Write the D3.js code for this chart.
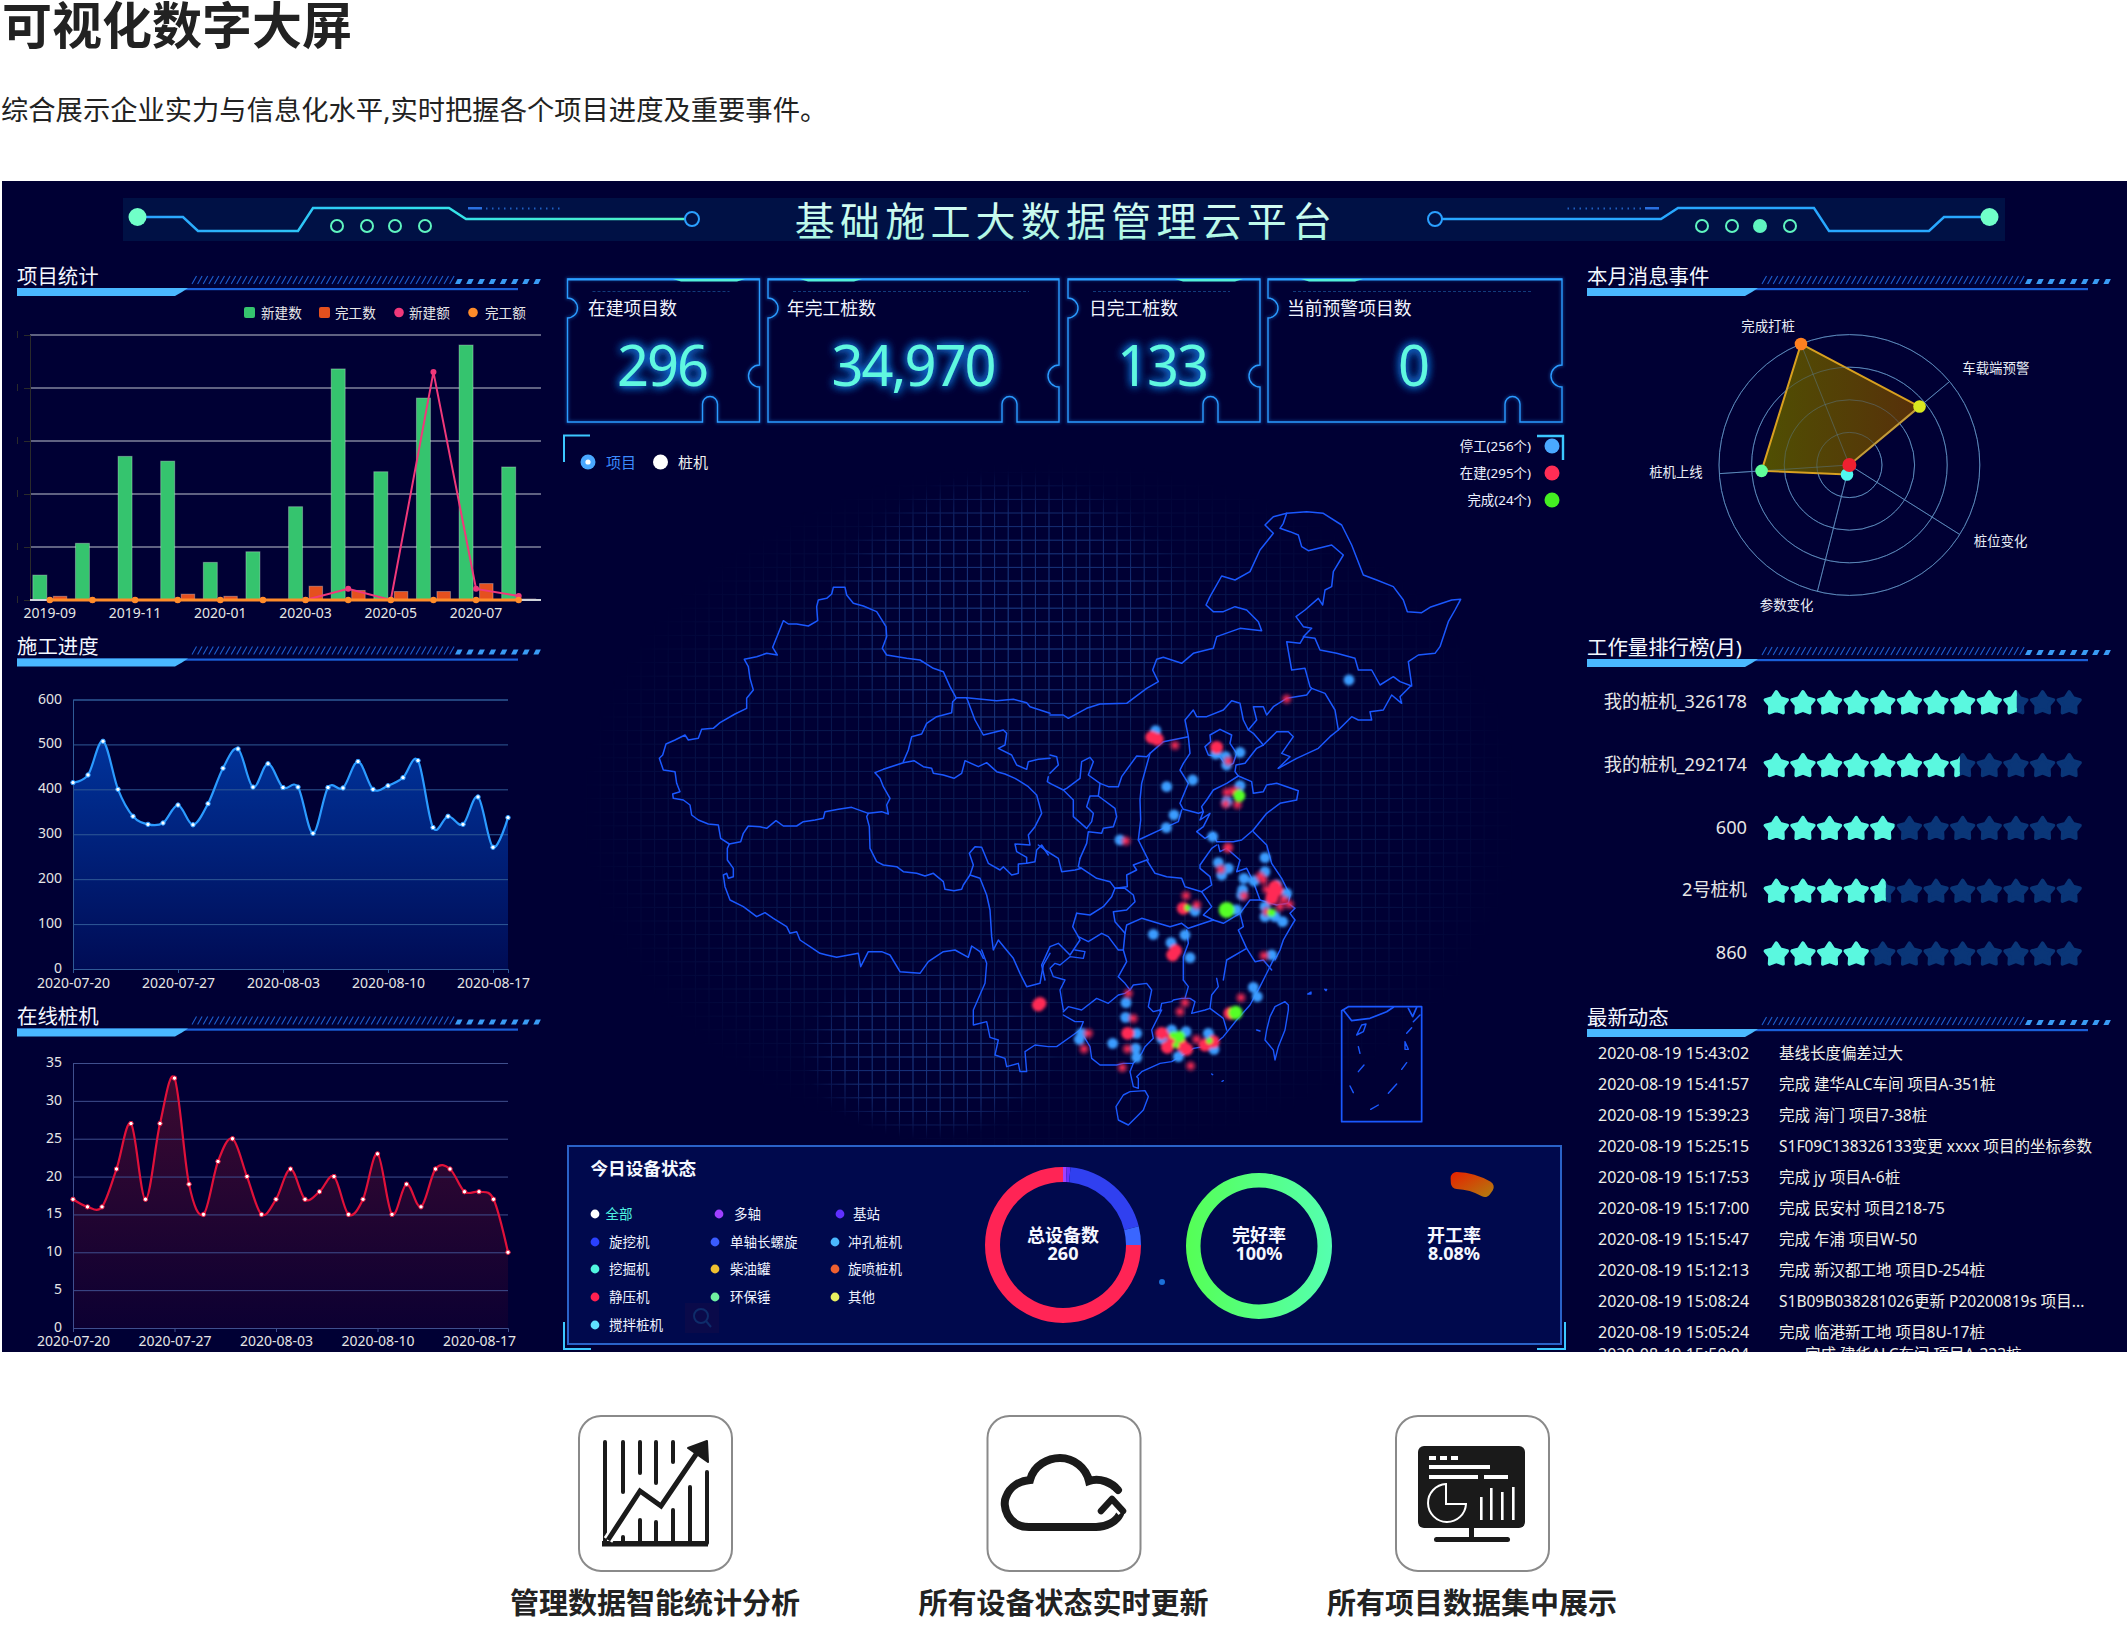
<!DOCTYPE html>
<html><head><meta charset="utf-8">
<style>
html,body{margin:0;padding:0;background:#fff}
svg{display:block}
text{font-family:"Noto Sans","Noto Sans CJK SC",sans-serif}
</style>
<script src="https://cdnjs.cloudflare.com/ajax/libs/d3/7.8.5/d3.min.js"></script>
</head><body>
<script>
// ---------- data ----------
const months = ["2019-09","2019-10","2019-11","2019-12","2020-01","2020-02","2020-03","2020-04","2020-05","2020-06","2020-07","2020-08"];
const newCount = [4.7,10.7,27.1,26.2,7.1,9.1,17.6,43.6,24.2,38.1,48.1,25.1];
const doneCount = [0.7,0,0,1.1,0.7,0,2.6,1.8,1.6,1.6,3.1,0.2];
const newAmount = [0,0,0,0,0,0,0,2.1,0,43,2.1,0.75];
const doneAmount = [0,0,0,0,0,0,0,0,0,0,0,0];
const statsLegend = ["新建数","完工数","新建额","完工额"];

const progressValues = [415,432,507,400,340,322,325,365,321,368,447,490,405,457,404,405,302,404,403,462,400,408,426,464,315,340,322,383,271,337];
const progressTicks = ["2020-07-20","2020-07-27","2020-08-03","2020-08-10","2020-08-17"];
const onlineValues = [17,16,16,21,27,17,27,33,19,15,22,25,20,15,17,21,17,18,20,15,17,23,15,19,16,21,21,18,18,17,10];
const tickIndex = [0,7,14,21,28];

const kpiLabels = ["在建项目数","年完工桩数","日完工桩数","当前预警项目数"];
const kpiValues = ["296","34,970","133","0"];

const radarAxes = ["完成打桩","车载端预警","桩位变化","参数变化","桩机上线"];
const radarValues = [40,28,0,3,27];
const radarColors = ["#ff8020","#d8e820","#ee2030","#50f8f0","#60ff9a"];

const rankNames = ["我的桩机_326178","我的桩机_292174","600","2号桩机","860"];
const rankStars = [9.53,7.39,4.94,4.61,3.98];

const newsTimes = ["2020-08-19 15:43:02","2020-08-19 15:41:57","2020-08-19 15:39:23","2020-08-19 15:25:15","2020-08-19 15:17:53","2020-08-19 15:17:00","2020-08-19 15:15:47","2020-08-19 15:12:13","2020-08-19 15:08:24","2020-08-19 15:05:24","2020-08-19 15:50:04"];
const newsTexts = ["基线长度偏差过大","完成 建华ALC车间 项目A-351桩","完成 海门 项目7-38桩","S1F09C138326133变更 xxxx 项目的坐标参数","完成 jy 项目A-6桩","完成 民安村 项目218-75","完成 乍浦 项目W-50","完成 新汉都工地 项目D-254桩","S1B09B038281026更新 P20200819s 项目...","完成 临港新工地 项目8U-17桩","完成 建华ALC车间 项目A-333桩"];

const deviceLegend = [["全部","#ffffff"],["多轴","#a040ff"],["基站","#6030ff"],["旋挖机","#2a40ff"],["单轴长螺旋","#3a5cff"],["冲孔桩机","#4ab8ff"],["挖掘机","#50f5e0"],["柴油罐","#f0c030"],["旋喷桩机","#f06030"],["静压机","#ff2050"],["环保锤","#70f0a0"],["其他","#e8f060"],["搅拌桩机","#60e0ff"]];
const deviceCounts = [2,2,51,10,195];
const deviceColors = ["#a040ff","#6a30ff","#3040f0","#3a66ff","#ff2455"];
const doneRate = 8.08;

const mapLegend = [["停工(256个)","#4aa8ff"],["在建(295个)","#ff2d55"],["完成(24个)","#44ee22"]];
const iconCaptions = ["管理数据智能统计分析","所有设备状态实时更新","所有项目数据集中展示"];

// map outlines, traced in four survey tiles
const tileOrigin = {a:[650,570],b:[1050,500],c:[970,780],d:[960,950]};
const bordersA = [
[[918,383],[900,350],[880,305],[850,295],[810,270],[770,265],[710,255],[697,235],[710,200],[708,170],[680,125],[640,108],[610,100],[590,75],[585,52],[550,52],[545,72],[530,85],[505,90],[500,110],[503,152],[475,168],[440,162],[415,162],[400,152],[385,190],[368,232],[382,255],[350,250],[320,260],[283,268],[295,290],[300,325],[310,360],[290,385],[290,415],[255,432],[210,458],[190,475],[155,478],[145,505],[115,510],[105,495],[75,510],[48,522],[38,555],[28,565],[40,600],[75,605],[80,640],[90,665],[68,672],[70,685],[100,690],[120,705],[125,735],[145,750],[175,762],[205,765],[212,805],[238,822]],
[[238,822],[272,815],[280,790],[295,768],[330,770],[350,775],[378,752],[400,768],[440,768],[460,755],[495,750],[520,745],[525,725],[565,718],[605,712],[655,730],[695,725],[715,732],[710,705],[720,685],[700,650],[690,625],[675,608],[700,598],[760,578],[792,572],[820,590],[845,595],[850,610],[880,615],[912,625],[935,610],[945,572],[985,590],[1010,578],[1040,605],[1065,612],[1095,625],[1135,650],[1160,675],[1175,730],[1155,770],[1135,795],[1140,825],[1095,822],[1100,845],[1130,862],[1130,880]],
[[760,575],[775,540],[785,500],[815,492],[830,460],[860,440],[905,428],[908,395],[920,383],[950,383],[975,450],[1000,495],[1060,480],[1070,490],[1065,525],[1045,535],[1085,555],[1100,585],[1130,598],[1135,575],[1165,568],[1200,565]],
[[950,383],[1040,392],[1090,388],[1130,398],[1140,410],[1200,430]],
[[655,730],[650,740],[658,770],[660,835],[680,875],[700,885],[740,890],[760,905],[800,910],[825,918],[850,910],[880,935],[885,958],[912,962],[935,958],[940,945],[960,915],[970,885],[958,850],[975,830],[995,832],[1015,880],[1050,900],[1060,890],[1085,915],[1105,910],[1105,882],[1130,880],[1155,875],[1160,840],[1175,825],[1195,855]],
[[238,822],[232,835],[232,870],[250,895],[250,920],[235,925],[230,910],[220,915],[225,950],[240,990],[280,1010],[320,1040],[345,1028],[370,1045],[410,1070],[420,1090],[440,1085],[450,1110],[480,1130],[510,1150],[530,1155],[560,1162],[625,1150],[632,1190],[655,1145],[695,1145],[720,1155],[750,1205],[810,1210],[835,1175],[880,1145],[915,1140],[955,1162],[965,1128],[990,1145],[1000,1165]],
[[960,915],[990,925],[1010,975],[1020,1020],[1025,1100],[1030,1140],[1045,1110],[1065,1135],[1090,1165],[1110,1210],[1130,1250],[1170,1240],[1180,1185],[1200,1150]],
[[1195,620],[1192,635],[1200,640]]
];
const bordersB = [
[[0,645],[40,645],[55,655],[110,625],[150,612],[230,610],[290,565],[325,545],[308,510],[320,478],[340,472],[395,490],[430,460],[490,445],[500,410],[570,385],[635,392],[625,365],[590,330],[555,320],[520,335],[490,335],[468,315],[480,290],[515,228],[555,240],[600,215],[630,150],[670,100],[645,75],[670,50],[710,40],[770,35],[820,40],[875,75],[905,135],[940,225],[980,240],[1030,260],[1060,300],[1072,335],[1115,338],[1140,322],[1205,300],[1232,298],[1215,330],[1195,365],[1170,440],[1155,460],[1105,465],[1075,485],[1085,555],[1050,590],[1055,610],[1025,585],[1000,630],[960,635],[965,660],[925,660],[905,650],[865,690],[840,710],[805,745],[740,775],[685,805]],
[[710,40],[700,70],[690,85],[720,95],[745,105],[755,140],[775,152],[845,135],[880,165],[850,215],[845,260],[825,270],[818,315],[805,295],[765,330],[738,350],[760,380],[785,385],[760,410],[795,415],[810,450],[860,460],[915,475],[925,510],[965,510],[990,555],[1030,530],[1050,545],[1085,558]],
[[762,410],[750,430],[710,425],[725,510],[765,505],[780,560],[785,565],[825,580],[855,630],[865,690]],
[[785,565],[770,585],[710,595],[670,620],[650,645],[640,620],[610,620],[620,660],[595,690],[610,700],[640,735]],
[[640,735],[680,695],[715,695],[730,710],[695,760],[720,770],[685,805]],
[[640,735],[620,745],[585,790],[558,795],[555,815],[565,828]],
[[595,690],[580,660],[570,610],[545,602],[520,630],[470,650],[440,650],[430,630],[405,660],[415,710]],
[[415,710],[420,760],[400,790],[390,810],[415,850],[390,910],[400,928],[445,940],[460,935]],
[[510,688],[480,705],[482,725],[465,740],[475,765],[510,770],[530,800],[550,790],[560,760],[540,730],[545,705],[510,688]],
[[415,710],[340,725],[300,760],[290,770],[260,768],[215,830],[205,860],[175,860],[150,850],[115,825],[130,785],[120,772],[95,785],[90,835],[50,865],[40,870],[0,850]],
[[300,760],[275,850],[270,900],[272,960],[265,1020],[285,1060],[295,1080]],
[[265,1020],[340,985],[385,965],[395,930]],
[[150,850],[145,888],[120,888],[110,920],[130,940],[125,965],[110,985]],
[[40,870],[70,900],[70,950],[110,985]],
[[145,888],[195,925],[200,950],[190,980],[160,985],[155,1000],[115,995],[110,1030],[90,1075]],
[[0,765],[20,770],[25,795],[0,820]],
[[565,828],[605,845],[610,880],[640,875],[650,855],[680,850],[745,872],[740,900],[690,910],[650,940],[610,990]],
[[565,828],[530,850],[490,870],[470,900],[455,920],[460,935],[450,960],[480,940],[460,980],[440,995],[465,1015],[490,1000],[500,1025],[550,1025],[575,1020],[610,990]]
];
const bordersC = [
[[205,195],[225,210],[265,235],[275,275],[315,270],[335,265],[380,295],[420,305],[435,325],[465,325],[490,345],[495,365],[470,390],[430,395],[435,425],[465,460],[460,510],[470,545],[445,590]],
[[335,265],[325,260],[330,235]],
[[530,240],[490,255],[500,270],[470,285],[472,320],[435,325]],
[[530,240],[555,280],[590,290],[635,295],[645,320],[695,335],[705,350],[725,380],[700,405],[730,420]],
[[740,195],[725,205],[690,255],[690,265],[720,290],[725,315],[695,335]],
[[745,195],[750,215],[770,205],[810,240],[800,275],[830,265],[850,305],[870,360],[840,360],[810,400],[760,430],[730,420]],
[[850,155],[890,195],[905,250],[935,295],[950,325],[960,345],[955,370],[975,385],[960,400],[975,420],[960,445],[940,480],[930,510],[915,540]],
[[870,360],[920,375],[955,370]],
[[810,400],[820,440],[805,450],[830,505],[855,545],[880,540],[905,570]],
[[465,460],[470,435],[515,415],[565,430],[600,440],[635,430],[655,445],[700,430],[730,420]],
[[650,450],[655,490],[640,530],[640,600]],
[[830,505],[770,540],[760,600]],
[[320,400],[360,405],[400,380],[425,350],[435,325]],
[[320,400],[308,440],[325,470],[355,485],[395,460],[415,470],[430,490],[445,510],[460,510]],
[[325,470],[330,480],[300,525],[265,490],[240,500],[215,555],[225,600]]
];
const bordersD = [
[[65,0],[80,40],[75,100],[40,180],[40,225],[80,215],[90,262],[115,270],[105,315],[135,325],[140,350],[175,340],[180,365],[200,365],[195,305],[225,285],[265,290],[290,290],[335,258],[360,240],[390,290],[395,325],[420,345],[470,345],[490,340],[520,340],[510,365],[520,410],[535,415],[535,385],[530,380],[545,365],[600,340],[635,335],[700,295],[760,285],[790,260],[830,210],[870,165],[900,110],[925,60],[945,20]],
[[310,195],[345,215],[370,215],[360,240]],
[[310,180],[300,120],[315,90],[280,80],[270,55],[285,40],[300,45],[330,20],[370,25],[375,5],[345,0]],
[[310,185],[325,170],[365,180],[410,145],[445,160],[475,135],[495,130],[510,120],[495,100],[475,80]],
[[510,120],[520,105],[560,100],[575,120],[565,170],[580,185],[600,180]],
[[605,180],[575,240],[580,265],[555,290],[545,310],[520,340]],
[[600,185],[605,160],[635,155],[640,150],[665,145],[690,145],[705,155],[695,190],[735,180],[750,175],[790,205],[800,240]],
[[670,90],[685,110],[675,145]],
[[770,85],[775,110],[755,135],[750,175]],
[[975,155],[945,170],[930,200],[920,240],[915,270],[940,300],[945,330],[955,290],[975,240],[985,180],[985,165],[975,155]],
[[510,425],[555,422],[565,440],[550,480],[530,500],[505,525],[475,510],[468,470],[490,435],[510,425]],
[[1190,255],[1205,225],[1218,222],[1210,245],[1190,255]],
[[1195,290],[1200,310]],[[1195,365],[1212,345]],[[1170,408],[1180,428]],[[1285,430],[1310,402]],[[1232,478],[1255,465]],
[[1325,358],[1340,338]],[[1335,275],[1345,298],[1335,298],[1335,275]],[[1340,250],[1355,233]],[[1360,215],[1380,195]],
[[890,240],[900,243]],[[1043,132],[1053,126],[1053,132],[1043,132]],[[1094,118],[1100,118],[1098,122],[1094,118]],[[755,372],[758,374]],[[786,394],[790,392]]
];
const nanhaiBox = [[[1145,182],[1165,170],[1385,170],[1385,515],[1145,515],[1145,182]],[[1150,180],[1175,212],[1230,205],[1280,185],[1300,172]],[[1345,175],[1358,200],[1370,172]]];

// site dots: [tile,u,v]
const stoppedSites = [["b",317,692],["b",497,762],["b",527,770],["b",570,757],["b",530,795],["b",428,840],["b",350,860],["b",372,945],["b",349,983],["b",570,857],["b",530,905],["b",210,1020],["b",488,1010],["b",897,540],
["c",885,233],["c",745,248],["c",775,265],["c",755,285],["c",885,275],["c",822,295],["c",852,303],["c",818,330],["c",815,345],["c",950,340],["c",603,488],["c",660,533],["c",550,463],["c",645,465],["c",800,390],["c",675,393],["c",905,525],["c",885,380],["c",885,410],["c",915,410],["c",938,425],["c",920,315],
["d",498,158],["d",497,202],["d",458,280],["d",530,250],["d",527,295],["d",530,322],["d",365,250],["d",358,268],["d",605,265],["d",635,240],["d",678,245],["d",745,250],["d",762,298],["d",655,320],["d",880,112],["d",892,140]];
const activeSitesSmall = [["b",710,597],["b",375,736],["b",228,1023],["b",533,1044],["b",562,914],["b",527,912],["b",530,877],["b",548,873],["b",562,875],["b",535,783],
["c",775,203],["c",752,268],["c",870,288],["c",880,300],["c",890,328],["c",822,348],["c",940,358],["c",958,373],["c",930,380],["c",890,395],["c",648,347],["c",680,375],["c",882,527],
["d",505,130],["d",520,205],["d",385,250],["d",372,297],["d",675,158],["d",660,185],["d",843,143],["d",710,268],["d",692,348],["d",487,353],["d",502,297]];
const activeSitesLarge = [["b",305,712],["b",322,718],["b",500,742],["c",640,385],["c",905,355],["c",920,330],["c",910,340],["c",915,320],["c",608,525],["c",617,512],
["d",240,160],["d",235,165],["d",503,250],["d",605,250],["d",622,292],["d",680,298],["d",640,265],["d",665,285],["d",810,190],["d",735,285],["d",760,275]];
const finishedSites = [["b",568,887,6],["c",653,383,3],["c",905,398,4],["c",770,390,8],["d",827,188,7],["d",658,260,6],["d",640,255,3.5],["d",648,285,3],["d",748,272,3]];

// ---------- page ----------
const W=2127,H=1644;
const svg=d3.select("body").append("svg").attr("width",W).attr("height",H).attr("viewBox",`0 0 ${W} ${H}`);
const defs=svg.append("defs");
function grad(id,stops,x1=0,y1=0,x2=0,y2=1){const g=defs.append("linearGradient").attr("id",id).attr("x1",x1).attr("y1",y1).attr("x2",x2).attr("y2",y2);stops.forEach(s=>g.append("stop").attr("offset",s[0]).attr("stop-color",s[1]));}
grad("gBlue",[[0,"#00339b"],[1,"#000c55"]]);
grad("gRed",[[0,"#3c0a30"],[1,"#0c0032"]]);
grad("gHeader",[[0,"#2aa0ff"],[0.5,"#30e0f0"],[1,"#50f5c0"]],0,0,1,0);
grad("gRadar",[[0,"#545400"],[1,"#5c3208"]],0,0,1,0);
grad("gRing2",[[0,"#55ff55"],[1,"#55ffb0"]],0,0,1,0);
grad("gRing3",[[0,"#e82000"],[1,"#b08010"]],0,0,1,1);
grad("gTitle",[[0,"#e4fff8"],[1,"#a0f5e0"]]);
function blur(id,s){defs.append("filter").attr("id",id).attr("x","-50%").attr("y","-50%").attr("width","200%").attr("height","200%").append("feGaussianBlur").attr("stdDeviation",s);}
blur("b1",1.4);blur("b2",0.5);
const glow=defs.append("filter").attr("id","glow").attr("x","-30%").attr("y","-30%").attr("width","160%").attr("height","160%");
glow.append("feGaussianBlur").attr("in","SourceAlpha").attr("stdDeviation",5).attr("result","b");
glow.append("feFlood").attr("flood-color","#1a8cff").attr("flood-opacity",.9);
glow.append("feComposite").attr("in2","b").attr("operator","in").attr("result","c");
const gm=glow.append("feMerge");gm.append("feMergeNode").attr("in","c");gm.append("feMergeNode").attr("in","c");gm.append("feMergeNode").attr("in","SourceGraphic");
const rg=defs.append("radialGradient").attr("id","gridFade");
[[0,1],[0.7,.7],[1,0]].forEach(s=>rg.append("stop").attr("offset",s[0]).attr("stop-color","#fff").attr("stop-opacity",s[1]));
const gridMask=defs.append("mask").attr("id","gridMask").attr("maskUnits","userSpaceOnUse").attr("x",0).attr("y",0).attr("width",W).attr("height",H);
gridMask.append("ellipse").attr("cx",1050).attr("cy",810).attr("rx",470).attr("ry",350).attr("fill","url(#gridFade)");
const hiMask=defs.append("mask").attr("id","gridHi").attr("maskUnits","userSpaceOnUse").attr("x",0).attr("y",0).attr("width",W).attr("height",H);
hiMask.append("ellipse").attr("cx",1010).attr("cy",620).attr("rx",190).attr("ry",150).attr("fill","url(#gridFade)");
hiMask.append("ellipse").attr("cx",930).attr("cy",1050).attr("rx",130).attr("ry",90).attr("fill","url(#gridFade)");
defs.append("clipPath").attr("id","panelClip").append("rect").attr("x",0).attr("y",181).attr("width",W).attr("height",1171);

function T(g,x,y,s,o={}){const t=g.append("text").attr("x",x).attr("y",y).attr("dominant-baseline","central").attr("fill",o.fill||"#fff").attr("font-size",o.size||14).attr("text-anchor",o.anchor||"start").text(s);
 if(o.weight)t.attr("font-weight",o.weight);if(o.ls)t.attr("letter-spacing",o.ls);if(o.filter)t.attr("filter",o.filter);return t;}

// header text on white
T(svg,2,25,"可视化数字大屏",{size:50,weight:700,fill:"#222"});
T(svg,1,109,"综合展示企业实力与信息化水平,实时把握各个项目进度及重要事件。",{size:27.3,fill:"#222"});

// dark panel
const P=svg.append("g").attr("clip-path","url(#panelClip)");
P.append("rect").attr("x",2).attr("y",181).attr("width",W-2).attr("height",1171).attr("fill","#000034");

// header band
P.append("rect").attr("x",123).attr("y",198).attr("width",1882).attr("height",43).attr("fill","#00154a").attr("opacity",.8);
const lineGen=d3.line();
function headerDeco(flip,filled){
  const g=P.append("g").attr("transform",flip?`translate(${W},0) scale(-1,1)`:null);
  const a=[[137,217],[183,217],[198,231],[298,231],[313,208],[449,208],[466,219],[685,219]];
  g.append("path").attr("d",lineGen(a)).attr("fill","none").attr("stroke",flip?"#28a8ff":"url(#gHeader)").attr("stroke-width",2.4);
  g.append("circle").attr("cx",137.5).attr("cy",217).attr("r",9).attr("fill","#6fffc8").attr("filter","url(#b2)");
  g.append("circle").attr("cx",692).attr("cy",219).attr("r",7).attr("fill","none").attr("stroke","#2aa0ff").attr("stroke-width",2);
  [337,367,395,425].forEach((x,i)=>g.append("circle").attr("cx",x).attr("cy",226).attr("r",6).attr("fill",i===filled?"#5ff5c0":"none").attr("stroke","#5ff5c0").attr("stroke-width",2));
  g.append("rect").attr("x",468).attr("y",207).attr("width",14).attr("height",2.5).attr("fill","#2a70e0");
  d3.range(486,560,6).forEach(x=>g.append("rect").attr("x",x).attr("y",207.5).attr("width",1.5).attr("height",2).attr("fill","#1f5fc0"));
}
headerDeco(false,-1);headerDeco(true,1);
T(P,1066,220,"基础施工大数据管理云平台",{size:40,fill:"url(#gTitle)",anchor:"middle",ls:5.2});

// section titles
function section(x,y,label){
  const g=P.append("g").attr("transform",`translate(${x},${y})`);
  T(g,0,-12.5,label,{size:20.4,fill:"#f4f8ff"});
  g.append("rect").attr("x",0).attr("y",0).attr("width",501).attr("height",2.2).attr("fill","#1a5fd8");
  g.append("path").attr("d","M0,0H171L165,4 L158,8 H0Z").attr("fill","#4ab8ff");
  const h=g.append("g").attr("stroke","#1d5fd0").attr("stroke-width",1.1);
  d3.range(175,436,5.6).forEach(v=>h.append("line").attr("x1",v).attr("y1",-4).attr("x2",v+4.5).attr("y2",-12));
  d3.range(438,523,11.2).forEach(v=>g.append("path").attr("d",`M${v},-4l2.5,-5h5l-2.5,5z`).attr("fill","#3a9cf5"));
}
section(17,288,"项目统计");section(17,658.5,"施工进度");section(17,1028.5,"在线桩机");
section(1587,288,"本月消息事件");section(1587,659,"工作量排行榜(月)");section(1587,1029,"最新动态");

// ---- chart 1
{
 const g=P.append("g");
 const x=d3.scaleBand().domain(months).range([28.5,540]);
 const y=d3.scaleLinear().domain([0,50]).range([600,335]);
 g.selectAll("line.gr").data(y.ticks(5).slice(1)).join("line").attr("x1",30).attr("x2",541).attr("y1",y).attr("y2",y).attr("stroke","#bfc4cf").attr("stroke-width",1);
 const al=g.append("g").attr("transform","translate(30,0)").call(d3.axisLeft(y).ticks(5).tickSize(6).tickFormat(""));
 al.selectAll("line,path").attr("stroke","#2a2a2a");
 g.selectAll("line.ytk").data(y.ticks(5)).join("line").attr("x1",17.5).attr("x2",17.5).attr("y1",d=>y(d)-4).attr("y2",d=>y(d)+3).attr("stroke","#2a2a2a");
 const cx=d=>x(d)+x.bandwidth()/2;
 g.selectAll("rect.n").data(months).join("rect").attr("x",d=>cx(d)-17).attr("width",14).attr("y",(d,i)=>y(newCount[i])).attr("height",(d,i)=>600-y(newCount[i])).attr("fill","#35c46e").attr("stroke","rgba(255,255,255,.3)");
 g.selectAll("rect.d").data(months).join("rect").attr("x",d=>cx(d)+3.5).attr("width",13.5).attr("y",(d,i)=>y(doneCount[i])).attr("height",(d,i)=>600-y(doneCount[i])).attr("fill","#e5501e").attr("stroke","rgba(255,255,255,.3)");
 g.append("line").attr("x1",30).attr("x2",541).attr("y1",600).attr("y2",600).attr("stroke","#cfd3da").attr("stroke-width",2);
 const ln=d3.line().x((d,i)=>cx(months[i])).y(d=>y(d));
 g.append("path").attr("d",ln(newAmount)).attr("fill","none").attr("stroke","#f0387a").attr("stroke-width",2);
 g.selectAll("circle.a").data(newAmount).join("circle").attr("cx",(d,i)=>cx(months[i])).attr("cy",y).attr("r",3).attr("fill","#f0387a");
 g.append("path").attr("d",ln(doneAmount)).attr("fill","none").attr("stroke","#ff8c2a").attr("stroke-width",3);
 g.selectAll("circle.b").data(doneAmount).join("circle").attr("cx",(d,i)=>cx(months[i])).attr("cy",y).attr("r",3.2).attr("fill","#ff8c2a");
 const ax=g.append("g").attr("transform","translate(0,605)").call(d3.axisBottom(x).tickValues(months.filter((d,i)=>i%2===0)).tickSize(0).tickPadding(0));
 ax.select(".domain").remove();ax.selectAll("text").attr("fill","#e6e6e6").attr("font-size",14).attr("dy","0.9em").attr("font-family",'"Noto Sans"');
 const lg=[[244,261,"#35c46e","rect"],[319,335,"#e5501e","rect"],[394,409,"#f0387a","c"],[468,485,"#ff8c2a","c"]];
 lg.forEach((l,i)=>{ if(l[3]==="rect")g.append("rect").attr("x",l[0]).attr("y",307).attr("width",11).attr("height",11).attr("rx",2).attr("fill",l[2]);
  else g.append("circle").attr("cx",l[0]+5).attr("cy",312.5).attr("r",4.8).attr("fill",l[2]);
  T(g,l[1],312,statsLegend[i],{size:13.6,fill:"#e8e8e8"});});
}
// ---- area charts
function area(values,yMax,yStep,top,bottom,lineColor,fillId,gridColor,pad){
 const g=P.append("g");
 const x=d3.scaleLinear().domain([0,values.length-1]).range([73,508]);
 const y=d3.scaleLinear().domain([0,yMax]).range([bottom,top]);
 const ticks=d3.range(0,yMax+1,yStep);
 const curve=d3.curveCardinal.tension(0);
 g.append("path").attr("d",d3.area().x((d,i)=>x(i)).y0(bottom).y1(y).curve(curve)(values)).attr("fill",`url(#${fillId})`);
 const ay=g.append("g").attr("transform","translate(73,0)").call(d3.axisLeft(y).tickValues(ticks).tickSize(-435).tickPadding(11));
 ay.selectAll("line,path").attr("stroke",gridColor);ay.selectAll("text").attr("fill","#e6e6e6").attr("font-size",14).attr("font-family",'"Noto Sans"').attr("dy","0.25em");
 const ax=g.append("g").attr("transform",`translate(0,${bottom})`).call(d3.axisBottom(x).tickValues(tickIndex).tickSize(4).tickPadding(pad).tickFormat((d,i)=>progressTicks[i]));
 ax.select(".domain").attr("stroke",gridColor);ax.selectAll("line").attr("stroke",gridColor);ax.selectAll("text").attr("fill","#e6e6e6").attr("font-size",14).attr("font-family",'"Noto Sans"');
 g.append("path").attr("d",d3.line().x((d,i)=>x(i)).y(y).curve(curve)(values)).attr("fill","none").attr("stroke",lineColor).attr("stroke-width",2.2);
 g.selectAll("circle").data(values).join("circle").attr("cx",(d,i)=>x(i)).attr("cy",y).attr("r",2.2).attr("fill","#fff").attr("stroke",lineColor).attr("stroke-width",1);
}
area(progressValues,600,100,699.5,969,"#2b9bff","gBlue","#2f5a96",5);
area(onlineValues,35,5,1063,1328,"#e0113a","gRed","#3f4f8e",4);

// ---- map grid
{
 const layer=(mask,col)=>{
  const g=P.append("g").attr("mask",`url(#${mask})`).attr("stroke",col).attr("stroke-width",1);
  d3.range(505,1600,13.6).forEach(v=>g.append("line").attr("x1",v).attr("x2",v).attr("y1",440).attr("y2",1180));
  d3.range(445,1180,13.6).forEach(v=>g.append("line").attr("y1",v).attr("y2",v).attr("x1",500).attr("x2",1600));
 };
 layer("gridMask","#0c2058");
 layer("gridHi","#1c3a86");
}
// ---- map
{
 const g=P.append("g");
 const tile=k=>({x:d3.scaleLinear().domain([0,3]).range([tileOrigin[k][0],tileOrigin[k][0]+1]),y:d3.scaleLinear().domain([0,3]).range([tileOrigin[k][1],tileOrigin[k][1]+1])});
 const draw=(segs,k,w)=>{const t=tile(k);const l=d3.line().x(d=>t.x(d[0])).y(d=>t.y(d[1]));
  g.selectAll(null).data(segs).join("path").attr("d",l).attr("fill","none").attr("stroke","#1a58ff").attr("stroke-width",w).attr("stroke-linejoin","round").attr("stroke-linecap","round");};
 draw(bordersA,"a",1.5);draw(bordersB,"b",1.5);draw(bordersC,"c",1.5);draw(bordersD,"d",1.4);draw(nanhaiBox,"d",1.7);
 const pos=d=>{const t=tile(d[0]);return [t.x(d[1]),t.y(d[2])];};
 const dots=P.append("g").attr("filter","url(#b1)");
 dots.selectAll(null).data(stoppedSites).join("circle").attr("cx",d=>pos(d)[0]).attr("cy",d=>pos(d)[1]).attr("r",5.4).attr("fill","#3a9cff");
 dots.selectAll(null).data(activeSitesSmall).join("circle").attr("cx",d=>pos(d)[0]).attr("cy",d=>pos(d)[1]).attr("r",5.4).attr("fill","#ff2a55").attr("opacity",.45);
 dots.selectAll(null).data(activeSitesSmall).join("circle").attr("cx",d=>pos(d)[0]).attr("cy",d=>pos(d)[1]).attr("r",2.4).attr("fill","#ff2a55");
 dots.selectAll(null).data(activeSitesLarge).join("circle").attr("cx",d=>pos(d)[0]).attr("cy",d=>pos(d)[1]).attr("r",6.4).attr("fill","#ff2a55");
 dots.selectAll(null).data(finishedSites).join("circle").attr("cx",d=>pos(d)[0]).attr("cy",d=>pos(d)[1]).attr("r",d=>d[3]).attr("fill","#55ff28");
}

// ---- KPI cards
{
 const y0=279,y1=422;
 const cards=[[567.5,759.5,589,663,673,745],[768,1059,788,914,800,862],[1068,1260,1090,1163,1175,1243],[1268,1562,1288,1414,1301,1363]];
 const card=(a,b)=>`M${a},${y0}H${b}V365A11,11 0 0 0 ${b},387V${y1}H${b-42}V404A7.5,7.5 0 0 0 ${b-57},404V${y1}H${a}V318A10,10 0 0 0 ${a},298Z`;
 cards.forEach((c,i)=>{
  const g=P.append("g");
  g.append("path").attr("d",card(c[0],c[1])).attr("fill","none").attr("stroke","#1a7ae0").attr("stroke-width",3.5).attr("opacity",.35).attr("filter","url(#b1)");
  g.append("path").attr("d",card(c[0],c[1])).attr("fill","none").attr("stroke","#2b9bff").attr("stroke-width",1.4);
  g.append("rect").attr("x",c[0]).attr("y",278.5).attr("width",c[1]-c[0]).attr("height",2).attr("fill","#2ba0ff");
  g.append("path").attr("d",`M${c[4]},279H${c[5]}L${c[5]-8},281.5H${c[4]+8}Z`).attr("fill","#52f0d8");
  g.append("line").attr("x1",c[0]+25).attr("x2",c[1]-30).attr("y1",291.5).attr("y2",291.5).attr("stroke","#123a7a").attr("stroke-dasharray","3 2");
  T(g,c[2]-1,307.5,kpiLabels[i],{size:17.8,fill:"#f2f6ff"});
  T(g,c[3]-1,364,kpiValues[i],{size:56,fill:"#5ff8e0",anchor:"middle",ls:-2,filter:"url(#glow)"});
 });
 P.append("path").attr("d","M564,462V435.5H590").attr("fill","none").attr("stroke","#3cc8ff").attr("stroke-width",2);
 P.append("path").attr("d","M1537,436H1563V460").attr("fill","none").attr("stroke","#3cc8ff").attr("stroke-width",2.4);
 P.append("circle").attr("cx",588).attr("cy",462).attr("r",7.5).attr("fill","#4aa8ff");
 P.append("circle").attr("cx",588).attr("cy",462).attr("r",2.6).attr("fill","#fff");
 T(P,606,462,"项目",{size:15,fill:"#3c8cff"});
 P.append("circle").attr("cx",660.5).attr("cy",462).attr("r",7.5).attr("fill","#fff");
 T(P,678,462,"桩机",{size:15,fill:"#f0f0f0"});
 mapLegend.forEach((d,i)=>{const yy=446+i*27;
  T(P,1531,yy-.5,d[0],{size:13.4,fill:"#eef2ff",anchor:"end"});
  P.append("circle").attr("cx",1552).attr("cy",yy).attr("r",7.5).attr("fill",d[1]);});
}

// ---- device panel
{
 const g=P.append("g");
 g.append("rect").attr("x",568).attr("y",1146).attr("width",993).attr("height",198).attr("fill","#000a50").attr("fill-opacity",.9).attr("stroke","#2a62c8").attr("stroke-width",2);
 g.append("path").attr("d","M564,1322V1349H591M1537,1349H1565V1322").attr("fill","none").attr("stroke","#3cc8ff").attr("stroke-width",2);
 T(g,590.5,1168,"今日设备状态",{size:17.6,weight:700,fill:"#f4f8ff"});
 const dotX=[595,715,835],txtX=[609,730,848],rows=[1214,1242,1269,1297,1325];
 deviceLegend.forEach((d,i)=>{const c=i%3,r=Math.floor(i/3);
  const dx=(i===0?595:i===1?719:i===2?840:dotX[c]),tx=(i===0?605.5:i===1?734:i===2?853:txtX[c]);
  g.append("circle").attr("cx",dx).attr("cy",rows[r]).attr("r",4.4).attr("fill",d[1]);
  T(g,tx,rows[r],d[0],{size:13.5,fill:i===0?"#4ff3e0":"#eef2ff"});});
 g.append("rect").attr("x",685).attr("y",1303).attr("width",34).attr("height",30).attr("fill","#0a0a4a");
 g.append("circle").attr("cx",701).attr("cy",1316).attr("r",7).attr("fill","none").attr("stroke","#0e2c6a").attr("stroke-width",2);
 g.append("line").attr("x1",706).attr("y1",1321).attr("x2",711).attr("y2",1327).attr("stroke","#0e2c6a").attr("stroke-width",2);
 const pie=d3.pie().sort(null);
 const a1=d3.arc().innerRadius(63).outerRadius(78);
 g.append("g").attr("transform","translate(1063,1245)").selectAll("path").data(pie(deviceCounts)).join("path").attr("d",a1).attr("fill",(d,i)=>deviceColors[i]);
 const a2=d3.arc().innerRadius(58.5).outerRadius(73);
 g.append("g").attr("transform","translate(1259,1246)").append("path").attr("d",a2({startAngle:0,endAngle:Math.PI*2})).attr("fill","url(#gRing2)");
 const a3=d3.arc().innerRadius(57).outerRadius(74).cornerRadius(6);
 g.append("g").attr("transform","translate(1454,1246)").append("path").attr("d",a3({startAngle:-0.05,endAngle:doneRate/100*Math.PI*2+0.1})).attr("fill","url(#gRing3)");
 [[1063,"总设备数","260"],[1259,"完好率","100%"],[1454,"开工率","8.08%"]].forEach(d=>{
  T(g,d[0],1235,d[1],{size:18,weight:700,anchor:"middle",fill:"#f6f8ff"});
  T(g,d[0],1253,d[2],{size:18,weight:700,anchor:"middle",fill:"#f6f8ff"});});
 g.append("circle").attr("cx",1162).attr("cy",1282).attr("r",3).attr("fill","#1a70d8").attr("filter","url(#b2)");
}

// ---- radar
{
 const g=P.append("g").attr("transform","translate(1849.4,465)");
 const r=d3.scaleLinear().domain([0,40]).range([0,130.4]);
 const ang=i=>(-21.8+72*i)*Math.PI/180;
 const ringColor="#5a86b8";
 [10,20,30,40].forEach(v=>g.append("circle").attr("r",r(v)).attr("fill","none").attr("stroke",ringColor).attr("stroke-width",1));
 radarAxes.forEach((a,i)=>g.append("line").attr("x2",130.4*Math.sin(ang(i))).attr("y2",-130.4*Math.cos(ang(i))).attr("stroke",ringColor));
 const path=d3.lineRadial().angle((d,i)=>ang(i)).radius(d=>r(d)).curve(d3.curveLinearClosed);
 g.append("path").attr("d",path(radarValues)).attr("fill","url(#gRadar)").attr("fill-opacity",.95).attr("stroke","#d8a020").attr("stroke-width",2);
 [10,20,30,40].forEach(v=>g.append("circle").attr("r",r(v)).attr("fill","none").attr("stroke",ringColor).attr("stroke-opacity",.35));
 radarAxes.forEach((a,i)=>g.append("line").attr("x2",130.4*Math.sin(ang(i))).attr("y2",-130.4*Math.cos(ang(i))).attr("stroke",ringColor).attr("stroke-opacity",.35));
 [3,1,4,0,2].forEach(i=>{const rr=r(radarValues[i]);
  g.append("circle").attr("cx",rr*Math.sin(ang(i))).attr("cy",-rr*Math.cos(ang(i))).attr("r",i===2?7:6.3).attr("fill",radarColors[i]);});
 const anchors=["end","start","start","end","end"];
 radarAxes.forEach((a,i)=>T(g,147*Math.sin(ang(i)),-147*Math.cos(ang(i))-2.5,a,{size:13.4,anchor:anchors[i],fill:"#e8edf5"}));
}

// ---- ranking
{
 const g=P.append("g");
 const rows=d3.scaleBand().domain(rankNames).range([671,985]);
 const x=d3.scaleLinear().domain([0,12]).range([1763,2082.5]);
 const starPts=d3.range(10).map(i=>[i*Math.PI/5,i%2?6.6:11.4]);
 const star=d3.lineRadial().angle(d=>d[0]).radius(d=>d[1]).curve(d3.curveLinearClosed)(starPts);
 rankNames.forEach((n,i)=>{
  const cy=rows(n)+rows.bandwidth()/2;
  T(g,1747,cy-1.5,n,{size:18.2,anchor:"end",fill:"#e6e6e6"});
  const id="clipStar"+i;
  defs.append("clipPath").attr("id",id).append("rect").attr("x",x(0)).attr("y",cy-20).attr("width",x(rankStars[i])-x(0)).attr("height",40);
  const put=(sel,col)=>sel.selectAll(null).data(d3.range(12)).join("path").attr("d",star).attr("transform",k=>`translate(${(x(k)+x(k+1))/2},${cy+1})`).attr("fill",col).attr("stroke",col).attr("stroke-width",3.6).attr("stroke-linejoin","round");
  put(g.append("g"),"#0a3678");
  put(g.append("g").attr("clip-path",`url(#${id})`),"#5af8df");
 });
}

// ---- news
{
 const g=P.append("g");
 newsTimes.forEach((t,i)=>{const y=i===10?1354:1053+i*31;
  T(g,1598,y,t,{size:16,fill:"#f0f0e8"});
  T(g,i===10?1805:1779,y,newsTexts[i],{size:15.5,fill:"#f0f0e8"});});
}

// ---- bottom icons
{
 const g=svg.append("g");
 [[579,0],[987.5,1],[1396,2]].forEach(d=>{
  g.append("rect").attr("x",d[0]).attr("y",1416).attr("width",153).attr("height",155).attr("rx",22).attr("fill","#fff").attr("stroke","#8a8a8a").attr("stroke-width",2);
  T(g,d[0]+76,1602,iconCaptions[d[1]],{size:29,weight:700,anchor:"middle",fill:"#222"});
 });
 const ink="#1a1a1a";
 g.append("rect").attr("x",602).attr("y",1541).attr("width",106).attr("height",5.5).attr("fill",ink);
 [[605,1442,1543],[623,1442,1492],[623,1537,1543],[640,1442,1473],[640,1520,1543],[656,1442,1483],[656,1522,1543],[673,1442,1462],[673,1510,1543],[690,1487,1543],[707,1472,1543]].forEach(s=>
  g.append("line").attr("x1",s[0]).attr("x2",s[0]).attr("y1",s[1]).attr("y2",s[2]).attr("stroke",ink).attr("stroke-width",4).attr("stroke-linecap","round"));
 const arrowPts=[[608,1540],[640,1491],[661,1506],[699,1450]];
 g.append("path").attr("d",lineGen(arrowPts)).attr("fill","none").attr("stroke","#fff").attr("stroke-width",10);
 g.append("path").attr("d",lineGen(arrowPts)).attr("fill","none").attr("stroke",ink).attr("stroke-width",5);
 g.append("path").attr("d","M688,1448L707,1441L708,1462Z").attr("fill",ink).attr("stroke",ink).attr("stroke-width",2).attr("stroke-linejoin","round");
 g.append("path").attr("d","M1029,1527C1007,1527 1002,1505 1006,1497C1010,1486 1020,1481 1030,1480C1034,1465 1048,1458 1060,1458C1074,1458 1086,1468 1089,1481C1100,1477 1112,1483 1118,1490M1120,1514C1116,1522 1106,1527 1096,1527L1029,1527").attr("fill","none").attr("stroke",ink).attr("stroke-width",8).attr("stroke-linecap","round");
 g.append("path").attr("d","M1101,1511L1112,1499L1123,1511").attr("fill","none").attr("stroke","#fff").attr("stroke-width",12);
 g.append("path").attr("d","M1101,1511L1112,1499L1123,1511").attr("fill","none").attr("stroke",ink).attr("stroke-width",6.5).attr("stroke-linecap","round").attr("stroke-linejoin","round");
 g.append("rect").attr("x",1418).attr("y",1446).attr("width",107).attr("height",82).attr("rx",6).attr("fill",ink);
 g.append("rect").attr("x",1469).attr("y",1528).attr("width",5).attr("height",10).attr("fill",ink);
 g.append("rect").attr("x",1434).attr("y",1537).attr("width",76).attr("height",5).attr("rx",2.5).attr("fill",ink);
 [1429,1440,1451].forEach(x=>g.append("rect").attr("x",x).attr("y",1456).attr("width",7).attr("height",4).attr("fill","#fff"));
 g.append("rect").attr("x",1429).attr("y",1465).attr("width",61).attr("height",4).attr("fill","#fff");
 g.append("rect").attr("x",1429).attr("y",1475).attr("width",49).attr("height",4).attr("fill","#fff");
 g.append("rect").attr("x",1484).attr("y",1475).attr("width",24).attr("height",4).attr("fill","#fff");
 g.append("path").attr("d","M1446,1484A19,19 0 1 0 1466,1504H1446Z").attr("fill","none").attr("stroke","#fff").attr("stroke-width",2);
 [[1480,1497],[1490,1488],[1501,1492],[1512,1487]].forEach(b=>g.append("rect").attr("x",b[0]).attr("y",b[1]).attr("width",2.6).attr("height",1520-b[1]).attr("fill","#fff"));
}
</script>
</body></html>
